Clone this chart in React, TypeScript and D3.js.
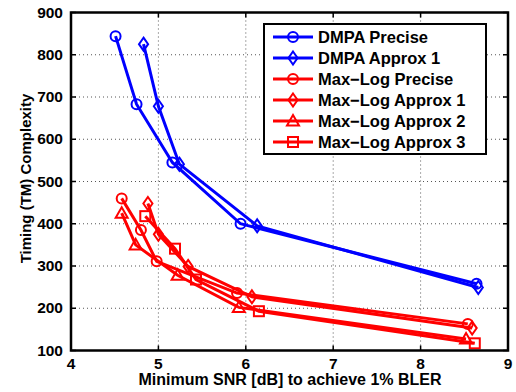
import React from 'react';
import * as d3 from 'd3';

// values
const seriesNames = [
  'DMPA Precise',
  'DMPA Approx 1',
  'Max\u2212Log Precise',
  'Max\u2212Log Approx 1',
  'Max\u2212Log Approx 2',
  'Max\u2212Log Approx 3',
];
const seriesColors = ['#0000ff', '#0000ff', '#ff0000', '#ff0000', '#ff0000', '#ff0000'];
const seriesMarkers = ['circle', 'diamond', 'circle', 'diamond', 'triangle', 'square'];

const dmpaPreciseX = [4.51, 4.75, 5.16, 5.94, 8.64];
const dmpaPreciseY = [844, 683, 545, 400, 258];
const dmpaApprox1X = [4.83, 5.0, 5.24, 6.13, 8.66];
const dmpaApprox1Y = [825, 678, 541, 395, 249];
const mlPreciseX = [4.58, 4.8, 4.98, 5.9, 8.54];
const mlPreciseY = [460, 385, 311, 236, 163];
const mlApprox1X = [4.88, 5.0, 5.34, 6.07, 8.59];
const mlApprox1Y = [448, 375, 299, 227, 153];
const mlApprox2X = [4.58, 4.74, 5.22, 5.92, 8.52];
const mlApprox2Y = [425, 350, 278, 202, 127];
const mlApprox3X = [4.85, 5.19, 5.43, 6.15, 8.62];
const mlApprox3Y = [418, 341, 268, 193, 117];

const xTicks = [4, 5, 6, 7, 8, 9];
const yTicks = [100, 200, 300, 400, 500, 600, 700, 800, 900];

const allX = [dmpaPreciseX, dmpaApprox1X, mlPreciseX, mlApprox1X, mlApprox2X, mlApprox3X];
const allY = [dmpaPreciseY, dmpaApprox1Y, mlPreciseY, mlApprox1Y, mlApprox2Y, mlApprox3Y];

const W = 516;
const H = 392;
const margin = { left: 71, right: 8, top: 12.5, bottom: 41.5 };
const font = '"Liberation Sans", Arial, Helvetica, sans-serif';

function Marker({ kind, x, y, color }: { kind: string; x: number; y: number; color: string }) {
  const common = { fill: 'none', stroke: color, strokeWidth: 2 };
  if (kind === 'circle') return <circle cx={x} cy={y} r={5} {...common} />;
  if (kind === 'diamond') {
    const r = 6.5;
    return <path d={`M${x},${y - r}L${x + r * 0.7},${y}L${x},${y + r}L${x - r * 0.7},${y}Z`} {...common} />;
  }
  if (kind === 'triangle') {
    const r = 6;
    return <path d={`M${x},${y - r}L${x + r},${y + r * 0.75}L${x - r},${y + r * 0.75}Z`} {...common} />;
  }
  const s = 5;
  return <rect x={x - s} y={y - s} width={2 * s} height={2 * s} {...common} />;
}

export default function App() {
  const x = d3.scaleLinear().domain([4, 9]).range([margin.left, W - margin.right]);
  const y = d3.scaleLinear().domain([100, 900]).range([H - margin.bottom, margin.top]);
  const line = d3
    .line<[number, number]>()
    .x(d => x(d[0]))
    .y(d => y(d[1]));

  const x0 = x(4), x1 = x(9), y0 = y(100), y1 = y(900);

  const legX = 264, legY = 24, legW = 222, legH = 130, rowH = 21;

  return (
    <svg width={W} height={H} style={{ position: 'absolute', left: 0, top: 0, background: '#fff' }}>
      {/* grid */}
      {xTicks.slice(1, -1).map(t => (
        <line key={'gx' + t} x1={x(t)} x2={x(t)} y1={y1} y2={y0} stroke="#555" strokeWidth={1} strokeDasharray="1,3" />
      ))}
      {yTicks.slice(1, -1).map(t => (
        <line key={'gy' + t} x1={x0} x2={x1} y1={y(t)} y2={y(t)} stroke="#555" strokeWidth={1} strokeDasharray="1,3" />
      ))}
      {/* inward ticks on all sides */}
      {xTicks.map(t => (
        <g key={'tx' + t}>
          <line x1={x(t)} x2={x(t)} y1={y0} y2={y0 - 5} stroke="#000" strokeWidth={1.5} />
          <line x1={x(t)} x2={x(t)} y1={y1} y2={y1 + 5} stroke="#000" strokeWidth={1.5} />
        </g>
      ))}
      {yTicks.map(t => (
        <g key={'ty' + t}>
          <line x1={x0} x2={x0 + 5} y1={y(t)} y2={y(t)} stroke="#000" strokeWidth={1.5} />
          <line x1={x1} x2={x1 - 5} y1={y(t)} y2={y(t)} stroke="#000" strokeWidth={1.5} />
        </g>
      ))}
      {/* series */}
      {allX.map((xs, i) => {
        const pts: [number, number][] = xs.map((v, j) => [v, allY[i][j]]);
        return (
          <g key={'s' + i}>
            <path d={line(pts) || ''} fill="none" stroke={seriesColors[i]} strokeWidth={3} />
            {pts.map((p, j) => (
              <Marker key={j} kind={seriesMarkers[i]} x={x(p[0])} y={y(p[1])} color={seriesColors[i]} />
            ))}
          </g>
        );
      })}
      {/* frame */}
      <rect x={x0} y={y1} width={x1 - x0} height={y0 - y1} fill="none" stroke="#000" strokeWidth={2.5} />
      {/* tick labels */}
      {xTicks.map(t => (
        <text key={'lx' + t} x={x(t)} y={y0 + 18} textAnchor="middle" fontFamily={font} fontWeight="bold" fontSize={15.5}>
          {t}
        </text>
      ))}
      {yTicks.map(t => (
        <text key={'ly' + t} x={x0 - 8} y={y(t) + 5} textAnchor="end" fontFamily={font} fontWeight="bold" fontSize={15.5}>
          {t}
        </text>
      ))}
      {/* axis titles */}
      <text x={(x0 + x1) / 2 + 0.5} y={385} textAnchor="middle" fontFamily={font} fontWeight="bold" fontSize={16}>
        Minimum SNR [dB] to achieve 1% BLER
      </text>
      <text
        transform={`translate(31,${(y0 + y1) / 2 - 3}) rotate(-90)`}
        textAnchor="middle"
        fontFamily={font}
        fontWeight="bold"
        fontSize={15}
      >
        Timing (TM) Complexity
      </text>
      {/* legend */}
      <rect x={legX} y={legY} width={legW} height={legH} fill="#fff" stroke="#000" strokeWidth={2} />
      {seriesNames.map((name, i) => {
        const cy = legY + 13 + i * rowH;
        return (
          <g key={'lg' + i}>
            <line x1={legX + 9} x2={legX + 49} y1={cy} y2={cy} stroke={seriesColors[i]} strokeWidth={3} />
            <Marker kind={seriesMarkers[i]} x={legX + 29} y={cy} color={seriesColors[i]} />
            <text x={legX + 54} y={cy + 6} fontFamily={font} fontWeight="bold" fontSize={16.5}>
              {name}
            </text>
          </g>
        );
      })}
    </svg>
  );
}
